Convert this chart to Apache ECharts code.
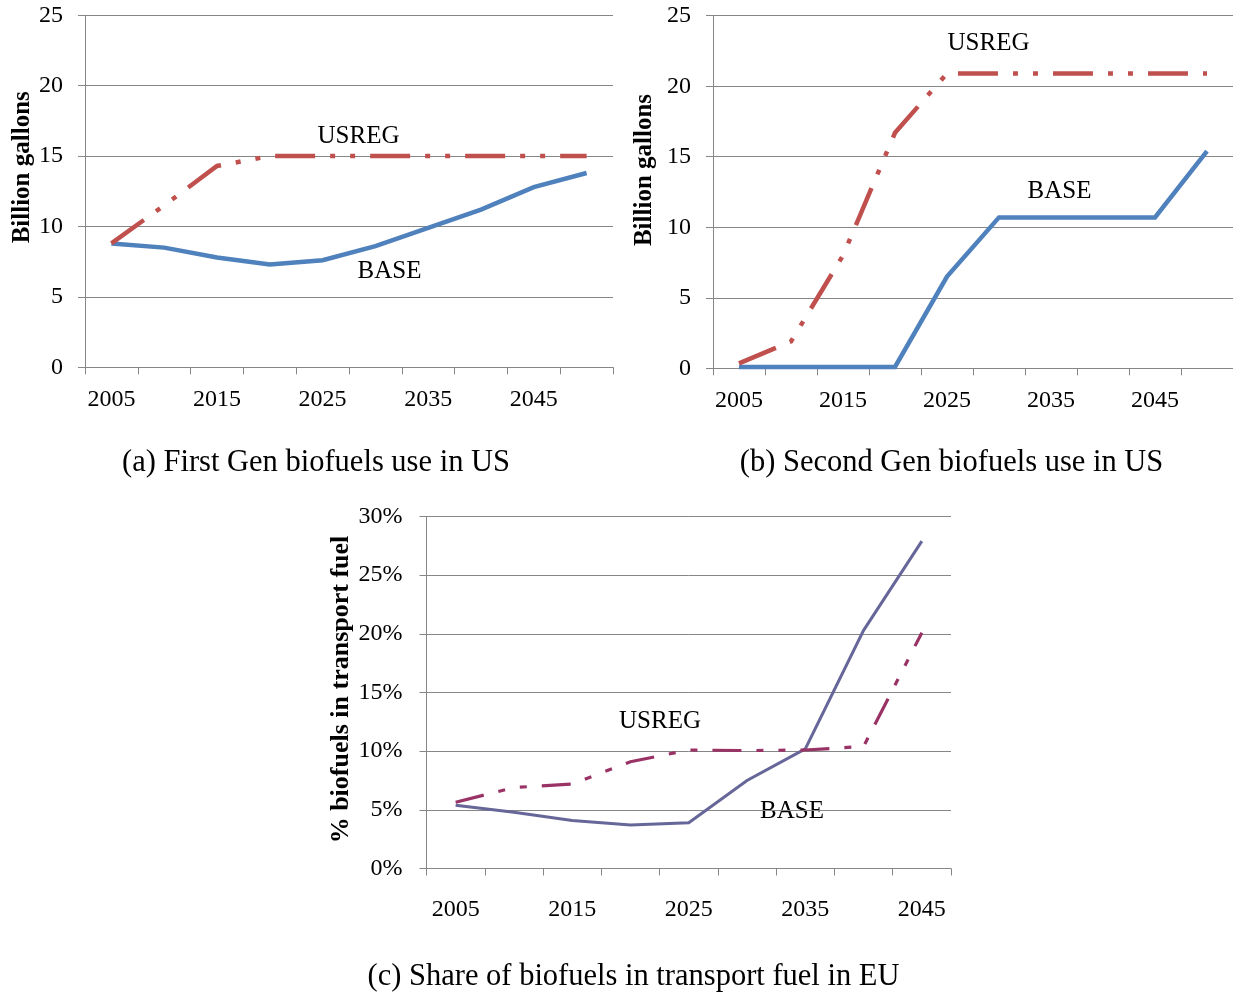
<!DOCTYPE html>
<html>
<head>
<meta charset="utf-8">
<script src="https://cdn.jsdelivr.net/npm/echarts@6/dist/echarts.min.js"></script>
<style>
html,body{margin:0;padding:0;background:#fff;}
#chart{width:1233px;height:993px;}
</style>
</head>
<body>
<div id="chart"></div>
<script>
// ---- data ----
var yearsUS = ['2005','2010','2015','2020','2025','2030','2035','2040','2045','2050'];
var yearsEU = ['2005','2010','2015','2020','2025','2030','2035','2040','2045'];

var firstGenBase  = [8.8, 8.5, 7.8, 7.3, 7.6, 8.6, 9.9, 11.2, 12.8, 13.8];
var firstGenUsreg = [8.8, 11.5, 14.3, 15.0, 15.0, 15.0, 15.0, 15.0, 15.0, 15.0];

var secondGenBase  = [0.1, 0.1, 0.1, 0.1, 6.5, 10.7, 10.7, 10.7, 10.7, 15.4];
var secondGenUsreg = [0.35, 1.9, 8.0, 16.7, 20.9, 20.9, 20.9, 20.9, 20.9, 20.9];

var euShareBase  = [5.4, 4.8, 4.1, 3.7, 3.9, 7.5, 10.2, 20.3, 27.9];
var euShareUsreg = [5.65, 6.9, 7.2, 9.1, 10.1, 10.05, 10.1, 10.4, 20.1];

var titles = ['(a) First Gen biofuels use in US', '(b) Second Gen biofuels use in US', '(c) Share of biofuels in transport fuel in EU'];
var yNames = ['Billion gallons', 'Billion gallons', '% biofuels in transport fuel'];

// ---- styling ----
var SERIF = '"Liberation Serif","Times New Roman",serif';
var GRAY = '#868686';
var RED = '#C0504D', BLUE = '#4F81BD', PLUM = '#993366', SLATE = '#666699';
var dashDotDot = [40, 15, 5, 15, 5, 15];
var dashDotDotC = [29, 15, 7, 15, 7, 15];

function xAxis(idx, cats, margin) {
  return {
    type: 'category', gridIndex: idx, data: cats, boundaryGap: true,
    axisLine: {show: true, lineStyle: {color: GRAY, width: 1}},
    axisTick: {show: true, interval: 0, length: 7, inside: false, lineStyle: {color: GRAY}},
    axisLabel: {interval: 1, margin: margin, color: '#000', fontFamily: SERIF, fontSize: 24},
    splitLine: {show: false}
  };
}
function yAxis(idx, max, fmt, name, nameGap, shift, nameSize, labelMargin) {
  return {
    type: 'value', gridIndex: idx, min: 0, max: max, interval: 5,
    name: name, nameLocation: 'middle', nameGap: nameGap, nameRotate: 90,
    nameTextStyle: {fontFamily: SERIF, fontWeight: 'bold', fontSize: nameSize, color: '#000',
      padding: [0, 0, 0, shift]},
    axisLine: {show: true, lineStyle: {color: GRAY, width: 1}},
    axisTick: {show: true, length: 7, inside: false, lineStyle: {color: GRAY}},
    axisLabel: {margin: labelMargin, color: '#000', fontFamily: SERIF, fontSize: 24, formatter: fmt},
    splitLine: {show: true, lineStyle: {color: GRAY, width: 1}}
  };
}
function line(idx, data, color, width, type) {
  return {
    type: 'line', xAxisIndex: idx, yAxisIndex: idx, data: data,
    symbol: 'none', showSymbol: false, smooth: false,
    lineStyle: {color: color, width: width, type: type, cap: 'butt', join: 'miter'},
    emphasis: {disabled: true}
  };
}
function note(text, x, y) {
  return {type: 'text', x: x, y: y, style: {text: text, fill: '#000', font: '25px ' + SERIF,
    align: 'center', verticalAlign: 'middle'}};
}
function title(text, cx, top) {
  return {text: text, left: cx, top: top, textAlign: 'center', padding: 0,
    textStyle: {fontFamily: SERIF, fontWeight: 'normal', fontSize: 30.5, color: '#000'}};
}

var option = {
  animation: false,
  backgroundColor: '#fff',
  title: [
    title(titles[0], 316, 447),
    title(titles[1], 951.5, 447),
    title(titles[2], 633.5, 961)
  ],
  grid: [
    {left: 85, top: 15.3, width: 528, height: 352, containLabel: false},
    {left: 713, top: 15.7, width: 528, height: 352.6, containLabel: false},
    {left: 426.5, top: 516.5, width: 524.5, height: 352, containLabel: false}
  ],
  xAxis: [xAxis(0, yearsUS, 20), xAxis(1, yearsUS, 20), xAxis(2, yearsEU, 29)],
  yAxis: [
    yAxis(0, 25, '{value}', yNames[0], 50, 48, 25, 22),
    yAxis(1, 25, '{value}', yNames[1], 56, 44, 25, 22),
    yAxis(2, 30, '{value}%', yNames[2], 72, 6, 26, 24)
  ],
  series: [
    line(0, firstGenBase, BLUE, 4.5, 'solid'),
    line(0, firstGenUsreg, RED, 4.5, dashDotDot),
    line(1, secondGenBase, BLUE, 4.5, 'solid'),
    line(1, secondGenUsreg, RED, 4.5, dashDotDot),
    line(2, euShareBase, SLATE, 3, 'solid'),
    line(2, euShareUsreg, PLUM, 3.2, dashDotDotC)
  ],
  graphic: [
    note('USREG', 358.5, 136),
    note('BASE', 389.5, 271.5),
    note('USREG', 988.5, 43.5),
    note('BASE', 1059.5, 191.5),
    note('USREG', 660, 721),
    note('BASE', 792, 811.5)
  ]
};

var chart = echarts.init(document.getElementById('chart'), null, {renderer: 'canvas', width: 1233, height: 993});
chart.setOption(option);
</script>
</body>
</html>
